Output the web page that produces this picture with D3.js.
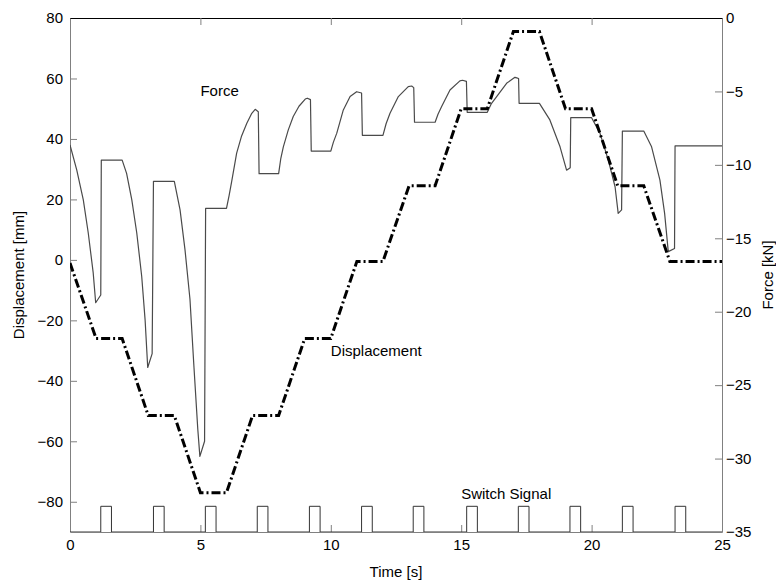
<!DOCTYPE html>
<html lang="en">
    <head>
        <meta charset="UTF-8" />
        <title>Displacement, Force and Switch Signal</title>
        <script src="https://d3js.org/d3.v7.min.js"></script>
        <style>
            body {
                margin: 0;
                background: #fff;
            }

            svg {
                font-family: 'Liberation Sans', Arial, sans-serif;
            }

            .axis text {
                font-size: 15px;
                fill: #000;
            }

            .axis path,
            .axis line {
                stroke: #808080;
            }

            .label {
                font-size: 15px;
                fill: #000;
            }
        </style>
    </head>
    <body>
        <svg width="776" height="583"></svg>

        <script>
            // displacement (mm, left axis)
            const dispTime = [0, 1, 2, 3, 4, 5, 6, 7, 8, 9, 10, 11, 12, 13, 14, 15, 16, 17, 18, 19, 20, 21, 22, 23, 25];
            const dispMM = [-1, -26, -26, -51.5, -51.5, -77, -77, -51.5, -51.5, -26, -26, -0.5, -0.5, 24.5, 24.5, 50, 50, 75.5, 75.5, 50, 50, 24.5, 24.5, -0.5, -0.5];

            // force (kN, right axis), one row per switching cycle
            const forceTime = [
                0, 0.26, 0.51, 0.7, 0.89, 0.985, 1.18, 1.2,
                2.0, 2.17, 2.37, 2.56, 2.75, 2.88, 2.98, 3.15, 3.2,
                4.0, 4.22, 4.41, 4.6, 4.75, 4.9, 4.98, 5.16, 5.2,
                6.0, 6.1, 6.2, 6.39, 6.58, 6.78, 6.97, 7.1, 7.22, 7.25,
                8.0, 8.08, 8.18, 8.37, 8.56, 8.78, 9.02, 9.1, 9.22, 9.25,
                10.0, 10.1, 10.23, 10.48, 10.74, 10.99, 11.18, 11.21,
                12.0, 12.12, 12.27, 12.59, 12.97, 13.1, 13.18, 13.21,
                14.0, 14.11, 14.25, 14.57, 14.95, 15.05, 15.2, 15.23,
                16.0, 16.15, 16.36, 16.74, 17.06, 17.13, 17.2, 17.22,
                18.0, 18.4, 18.79, 19.04, 19.18, 19.2,
                20.0, 20.32, 20.64, 20.9, 21.02, 21.15, 21.18,
                22.0, 22.3, 22.62, 22.8, 22.94, 23.18, 23.2,
                25.0
            ];
            const forceKN = [
                -8.65, -10.36, -12.39, -14.64, -17.36, -19.39, -18.86, -9.68,
                -9.68, -10.58, -12.39, -14.64, -17.6, -20.57, -23.8, -22.85, -11.12,
                -11.12, -13.07, -15.79, -19.15, -23.68, -28.0, -29.85, -28.82, -12.97,
                -12.97, -12.1, -11.12, -9.2, -8.03, -7.16, -6.49, -6.22, -6.38, -10.6,
                -10.6, -9.6, -8.77, -7.62, -6.71, -6.01, -5.52, -5.46, -5.56, -9.06,
                -9.06, -8.45, -7.84, -6.26, -5.35, -5.02, -5.11, -7.99,
                -7.99, -7.2, -6.49, -5.35, -4.67, -4.63, -4.74, -7.1,
                -7.1, -6.55, -6.03, -4.9, -4.28, -4.24, -4.32, -6.42,
                -6.42, -5.85, -5.35, -4.45, -4.04, -4.08, -4.12, -5.81,
                -5.81, -6.94, -8.77, -10.36, -10.19, -6.79,
                -6.79, -7.84, -9.68, -11.49, -13.3, -13.07, -7.7,
                -7.7, -8.77, -11.04, -13.3, -15.91, -15.69, -8.71,
                -8.71
            ];

            // switch signal pulses (plotted on the displacement axis)
            const pulseStarts = [1.18, 3.2, 5.19, 7.18, 9.18, 11.18, 13.16, 15.21, 17.19, 19.17, 21.18, 23.2];
            const pulseWidth = 0.41;
            const pulseLow = -90;
            const pulseHigh = -81.5;

            const timeTicks = [0, 5, 10, 15, 20, 25];
            const dispTicks = [-80, -60, -40, -20, 0, 20, 40, 60, 80];
            const forceTicks = [0, -5, -10, -15, -20, -25, -30, -35];

            const svg = d3.select('svg'),
                margin = { top: 18, right: 54, bottom: 51, left: 70 },
                width = +svg.attr('width') - margin.left - margin.right,
                height = +svg.attr('height') - margin.top - margin.bottom;

            const g = svg.append('g').attr('transform', `translate(${margin.left},${margin.top})`);

            const x = d3.scaleLinear().domain([0, 25]).range([0, width]);
            const yL = d3.scaleLinear().domain([-90, 80]).range([height, 0]);
            const yR = d3.scaleLinear().domain([-35, 0]).range([height, 0]);

            g.append('clipPath').attr('id', 'plot-clip').append('rect').attr('width', width).attr('height', height);

            // axes
            g.append('g')
                .attr('class', 'axis')
                .call(d3.axisLeft(yL).tickValues(dispTicks).tickSizeInner(-7).tickSizeOuter(0).tickPadding(7));

            g.append('g')
                .attr('class', 'axis')
                .attr('transform', `translate(${width},0)`)
                .call(d3.axisRight(yR).tickValues(forceTicks).tickSizeInner(-7).tickSizeOuter(0).tickPadding(4));

            g.append('g')
                .attr('class', 'axis')
                .attr('transform', `translate(0,${height})`)
                .call(d3.axisBottom(x).tickValues(timeTicks).tickSizeInner(-7).tickSizeOuter(0).tickPadding(7));

            const topAxis = g.append('g')
                .attr('class', 'axis')
                .call(d3.axisTop(x).tickValues(timeTicks.slice(1, -1)).tickSizeInner(-7).tickSizeOuter(0).tickFormat(''));
            topAxis.select('.domain').style('stroke', '#000');

            const plot = g.append('g').attr('clip-path', 'url(#plot-clip)');

            // force
            const forceLine = d3
                .line()
                .x((d, i) => x(forceTime[i]))
                .y((d) => yR(d));

            plot.append('path')
                .attr('d', forceLine(forceKN))
                .attr('fill', 'none')
                .attr('stroke', '#4a4a4a')
                .attr('stroke-width', 1.2)
                .attr('stroke-linejoin', 'round');

            // displacement
            const dispLine = d3
                .line()
                .x((d, i) => x(dispTime[i]))
                .y((d) => yL(d));

            plot.append('path')
                .attr('d', dispLine(dispMM))
                .attr('fill', 'none')
                .attr('stroke', '#000')
                .attr('stroke-width', 3)
                .attr('stroke-dasharray', '9,3,2,3');

            // switch signal
            const pulsePts = [[0, pulseLow]];
            pulseStarts.forEach((s) => {
                pulsePts.push([s, pulseLow], [s, pulseHigh], [s + pulseWidth, pulseHigh], [s + pulseWidth, pulseLow]);
            });
            pulsePts.push([25, pulseLow]);

            plot.append('path')
                .attr('d', d3.line().x((d) => x(d[0])).y((d) => yL(d[1]))(pulsePts))
                .attr('fill', 'none')
                .attr('stroke', '#333')
                .attr('stroke-width', 1);

            // annotations
            g.append('text').attr('class', 'label').attr('x', x(5.0)).attr('y', yL(54.2)).text('Force');
            g.append('text').attr('class', 'label').attr('x', x(10.0)).attr('y', yL(-31.8)).text('Displacement');
            g.append('text').attr('class', 'label').attr('x', x(15.0)).attr('y', yL(-79)).text('Switch Signal');

            // axis titles
            svg.append('text')
                .attr('class', 'label')
                .attr('text-anchor', 'middle')
                .attr('transform', `translate(${margin.left + width / 2},577)`)
                .text('Time [s]');

            svg.append('text')
                .attr('class', 'label')
                .attr('text-anchor', 'middle')
                .attr('transform', `translate(24,${margin.top + height / 2}) rotate(-90)`)
                .text('Displacement [mm]');

            svg.append('text')
                .attr('class', 'label')
                .attr('text-anchor', 'middle')
                .attr('transform', `translate(773,${margin.top + height / 2}) rotate(-90)`)
                .text('Force [kN]');
        </script>
    </body>
</html>
